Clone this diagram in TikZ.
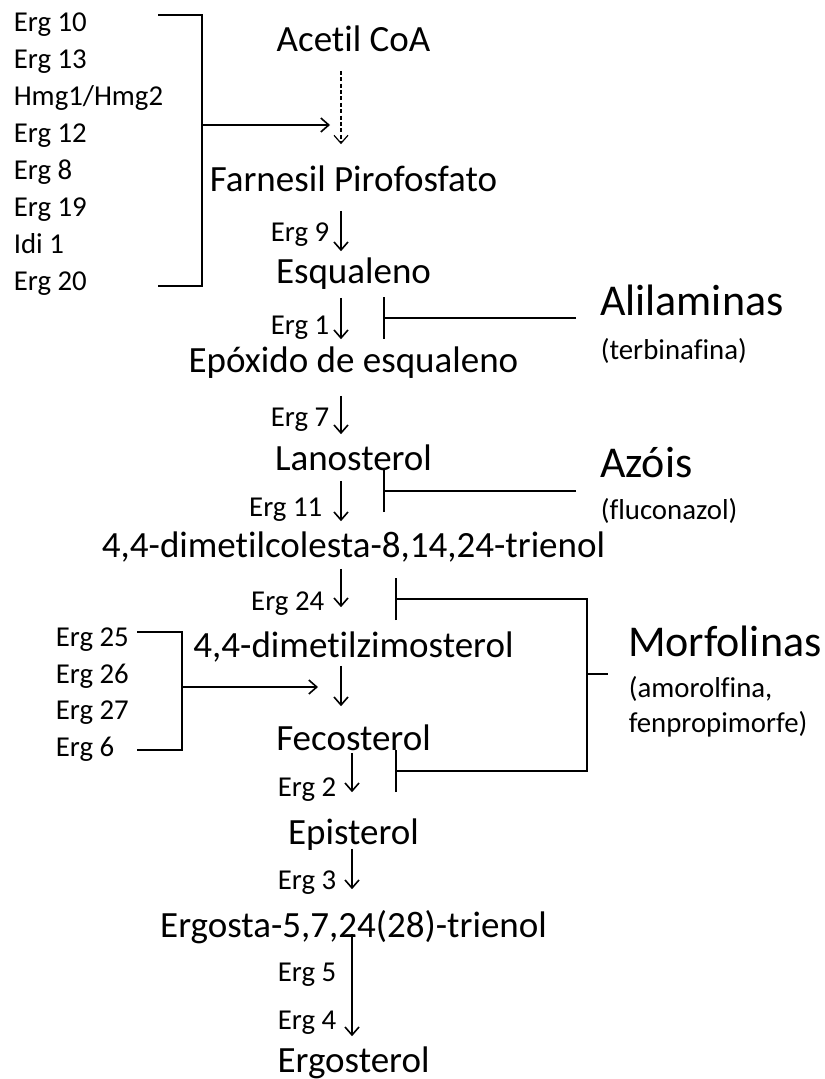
\documentclass[tikz,border=0pt]{standalone}
\usepackage{fontspec}
\setmainfont{Carlito}[Ligatures={NoCommon,NoContextual}]
\usetikzlibrary{arrows.meta}

\newcommand{\sizemain}{\fontsize{18.5pt}{22pt}\selectfont}
\newcommand{\sizeerg}{\fontsize{14.4pt}{17pt}\selectfont}
\newcommand{\sizedrug}{\fontsize{22pt}{26pt}\selectfont}

\tikzset{
    sterol/.style={font=\sizemain, inner sep=0pt, text height=12pt, text depth=0pt},
    enzyme/.style={font=\sizeerg, inner sep=0pt, text height=9.3pt, text depth=0pt},
    drug/.style={font=\sizedrug, inner sep=0pt, outer sep=12pt, text height=14.2pt, text depth=0pt, anchor=west},
    drugnote/.style={font=\sizeerg, inner sep=0pt, text height=9.3pt, text depth=0pt, anchor=west},
    conv/.style={-{Straight Barb[length=4pt,width=7pt]}},
    inhibit/.style={-{Bar[width=21pt]}},
}

\begin{document}
\begin{tikzpicture}[x=0.5pt,y=-0.5pt,line width=0.8pt]
    \useasboundingbox (0,0) rectangle (824,1079);

    % columns of the pathway arrows
    \coordinate (colA) at (341,0);
    \coordinate (colB) at (352,0);

    % pathway
    \node[sterol] (acetil) at (353.5,40) {Acetil CoA};
    \node[sterol] (farnesil) at (353.5,180) {Farnesil Pirofosfato};
    \node[sterol] (esqualeno) at (353.5,272) {Esqualeno};
    \node[sterol] (epoxido) at (353.5,360) {Epóxido de esqualeno};
    \node[sterol] (lanosterol) at (353.5,458) {Lanosterol};
    \node[sterol] (dimetilcol) at (353.5,545) {4,4-dimetilcolesta-8,14,24-trienol};
    \node[sterol] (dimetilzim) at (353.5,645) {4,4-dimetilzimosterol};
    \node[sterol] (fecosterol) at (353.5,738) {Fecosterol};
    \node[sterol] (episterol) at (353.5,832) {Episterol};
    \node[sterol] (ergosta) at (353.5,925) {Ergosta-5,7,24(28)-trienol};
    \node[sterol] (ergosterol) at (353.5,1060) {Ergosterol};

    \draw[conv, line width=0.6pt, dash pattern=on 2pt off 1.2pt, shorten <=9pt, shorten >=11.5pt] (acetil.south -| colA) -- (farnesil.north -| colA);
    \draw[conv, shorten <=9pt, shorten >=4pt] (farnesil.south -| colA) -- (esqualeno.north -| colA)
        node[enzyme, pos=.59, left=5.5pt] (erg9) {Erg 9};
    \draw[conv, shorten <=6.5pt, shorten >=4pt] (esqualeno.south -| colA) -- (epoxido.north -| colA)
        node[enzyme, pos=.64, left=5.5pt] (erg1) {Erg 1};
    \draw[conv, shorten <=11.5pt, shorten >=5.5pt] (epoxido.south -| colA) -- (lanosterol.north -| colA)
        node[enzyme, pos=.61, left=5.5pt] (erg7) {Erg 7};
    \draw[conv, shorten <=5pt, shorten >=5.5pt] (lanosterol.south -| colA) -- (dimetilcol.north -| colA)
        node[enzyme, pos=.60, left=9pt] (erg11) {Erg 11};
    \draw[conv, shorten <=5.5pt, shorten >=12.5pt] (dimetilcol.south -| colA) -- (dimetilzim.north -| colA)
        node[enzyme, pos=.59, left=8pt] (erg24) {Erg 24};
    \draw[conv, shorten <=4pt, shorten >=9.5pt] (dimetilzim.south -| colA) -- (fecosterol.north -| colA);
    \draw[conv, shorten <=1pt, shorten >=13.5pt] (fecosterol.south -| colB) -- (episterol.north -| colB)
        node[enzyme, pos=.53, left=7.5pt] (erg2) {Erg 2};
    \draw[conv, shorten <=2pt, shorten >=11.5pt] (episterol.south -| colB) -- (ergosta.north -| colB)
        node[enzyme, pos=.52, left=7.5pt] (erg3) {Erg 3};
    \draw[conv, shorten <=-2pt, shorten >=5.5pt] (ergosta.south -| colB) -- (ergosterol.north -| colB)
        node[enzyme, pos=.315, left=7.5pt] (erg5) {Erg 5}
        node[enzyme, pos=.75, left=7.5pt] (erg4) {Erg 4};

    % upper enzyme list
    \foreach \name [count=\i from 0] in {Erg 10, Erg 13, Hmg1/Hmg2, Erg 12, Erg 8, Erg 19, Idi 1, Erg 20}
        \node[enzyme, anchor=west] (up\i) at (13,22+37.1*\i) {\name};
    \coordinate (upJoin) at (202,125);
    \coordinate (upTip) at (330,125);
    \draw (158,15) -| (202,286) -- (158,286);
    \draw[conv] (upJoin) -- (upTip);

    % lower enzyme list
    \foreach \name [count=\i from 0] in {Erg 25, Erg 26, Erg 27, Erg 6}
        \node[enzyme, anchor=west] (low\i) at (55,637+36.7*\i) {\name};
    \coordinate (lowJoin) at (182,687);
    \coordinate (lowTip) at (318,687);
    \draw (137,632) -| (182,750) -- (137,750);
    \draw[conv] (lowJoin) -- (lowTip);

    % inhibitors
    \coordinate (aliT) at (383,318);
    \node[drug] (alil) at (576,301) {Alilaminas};
    \node[drugnote] (terb) at (600,350) {(terbinafina)};
    \draw[inhibit] (alil.west |- aliT) -- (aliT);

    \coordinate (azoT) at (383,491);
    \node[drug] (azois) at (576,463) {Azóis};
    \node[drugnote] (fluc) at (600,510) {(fluconazol)};
    \draw[inhibit] (azois.west |- azoT) -- (azoT);

    \coordinate (morfTopT) at (395,599);
    \coordinate (morfBotT) at (395,771);
    \coordinate (morfJoin) at (587,674);
    \node[drug, outer sep=10pt] (morf) at (608,642) {Morfolinas};
    \node[drugnote] (amor) at (628,688) {(amorolfina,};
    \node[drugnote] (fenp) at (628,723) {fenpropimorfe)};
    \draw[{Bar[width=21pt]}-{Bar[width=21pt]}] (morfTopT) -| (morfJoin) |- (morfBotT);
    \draw (morfJoin) -- (morf.west |- morfJoin);
\end{tikzpicture}
\end{document}
